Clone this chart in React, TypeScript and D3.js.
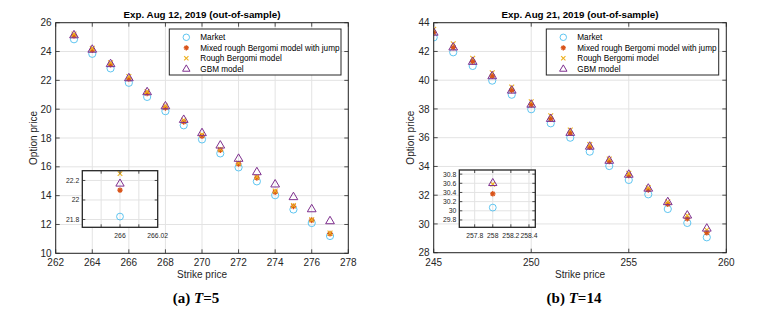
import * as d3 from "d3";

// Exp. Aug 12, 2019 (T=5)
const strikesA = [263, 264, 265, 266, 267, 268, 269, 270, 271, 272, 273, 274, 275, 276, 277];
const marketA = [24.85, 23.84, 22.83, 21.83, 20.85, 19.86, 18.88, 17.9, 16.93, 15.96, 14.99, 14.03, 13.04, 12.1, 11.2];
const mixedA = [25.1, 24.1, 23.1, 22.1, 21.1, 20.1, 19.12, 18.14, 17.16, 16.2, 15.24, 14.25, 13.26, 12.3, 11.36];
const roughA = [25.22, 24.22, 23.22, 22.27, 21.22, 20.22, 19.24, 18.24, 17.22, 16.27, 15.3, 14.32, 13.32, 12.33, 11.4];
const gbmA = [25.15, 24.15, 23.15, 22.17, 21.2, 20.22, 19.28, 18.36, 17.5, 16.58, 15.65, 14.8, 13.92, 13.08, 12.25];

// Exp. Aug 21, 2019 (T=14)
const strikesB = [245, 246, 247, 248, 249, 250, 251, 252, 253, 254, 255, 256, 257, 258, 259];
const marketB = [42.98, 41.94, 40.99, 39.97, 38.99, 37.98, 37.0, 36.0, 35.03, 34.03, 33.06, 32.06, 31.04, 30.07, 29.07];
const mixedB = [43.32, 42.28, 41.3, 40.29, 39.3, 38.3, 37.32, 36.33, 35.35, 34.35, 33.38, 32.38, 31.38, 30.37, 29.39];
const roughB = [43.54, 42.53, 41.53, 40.52, 39.52, 38.5, 37.53, 36.53, 35.52, 34.52, 33.52, 32.52, 31.55, 30.58, 29.58];
const gbmB = [43.33, 42.3, 41.3, 40.3, 39.3, 38.32, 37.33, 36.36, 35.4, 34.42, 33.45, 32.48, 31.54, 30.61, 29.7];

const legendLabels = ["Market", "Mixed rough Bergomi model with jump", "Rough Bergomi model", "GBM model"];

const xTicksA = [262, 264, 266, 268, 270, 272, 274, 276, 278];
const yTicksA = [10, 12, 14, 16, 18, 20, 22, 24, 26];
const xTicksB = [245, 250, 255, 260];
const yTicksB = [28, 30, 32, 34, 36, 38, 40, 42, 44];

const insetXGridA = [265.99, 266, 266.01];
const insetXLabelsA = [266, 266.02];
const insetYTicksA = [21.8, 22, 22.2];
const insetXTicksB = [257.8, 258, 258.2, 258.4];
const insetYTicksB = [29.8, 30, 30.2, 30.4, 30.6, 30.8];

const C_MARKET = "#4DBEEE";
const C_MIXED = "#D95319";
const C_ROUGH = "#EDB120";
const C_GBM = "#7E2F8E";
const AX = "#262626";
const GRID = "#e3e3e3";
const SANS = "'Liberation Sans', Arial, Helvetica, sans-serif";
const SERIF = "'Liberation Serif', 'Times New Roman', serif";

type Rect = { x0: number; x1: number; y0: number; y1: number };

function Marker({ kind, x, y, s = 1 }: { kind: number; x: number; y: number; s?: number }) {
  if (kind === 0) {
    return <circle cx={x} cy={y} r={3.6 * s} fill="none" stroke={C_MARKET} strokeWidth={0.9} />;
  }
  if (kind === 1) {
    const r = 2.9 * s;
    return (
      <g stroke={C_MIXED} strokeWidth={1.3}>
        <line x1={x - r} y1={y} x2={x + r} y2={y} />
        <line x1={x} y1={y - r} x2={x} y2={y + r} />
        <line x1={x - r * 0.7} y1={y - r * 0.7} x2={x + r * 0.7} y2={y + r * 0.7} />
        <line x1={x - r * 0.7} y1={y + r * 0.7} x2={x + r * 0.7} y2={y - r * 0.7} />
        <circle cx={x} cy={y} r={1.8 * s} fill={C_MIXED} stroke="none" />
      </g>
    );
  }
  if (kind === 2) {
    const r = 2.4 * s;
    return (
      <g stroke={C_ROUGH} strokeWidth={1.1}>
        <line x1={x - r} y1={y - r} x2={x + r} y2={y + r} />
        <line x1={x - r} y1={y + r} x2={x + r} y2={y - r} />
      </g>
    );
  }
  const h = 4.6 * s;
  return (
    <path
      d={`M${x},${y - h}L${x + h * 0.95},${y + h * 0.62}L${x - h * 0.95},${y + h * 0.62}Z`}
      fill="none"
      stroke={C_GBM}
      strokeWidth={1}
    />
  );
}

function Series({ strikes, series, x, y, s }: any) {
  return (
    <g>
      {series.map((vals: number[], k: number) =>
        vals.map((v, i) => <Marker key={`${k}-${i}`} kind={k} x={x(strikes[i])} y={y(v)} s={s} />)
      )}
    </g>
  );
}

function Panel(props: {
  id: string;
  rect: Rect;
  xDomain: [number, number];
  yDomain: [number, number];
  xTicks: number[];
  yTicks: number[];
  strikes: number[];
  series: number[][];
  title: string;
  legend: Rect;
  inset: Rect;
  insetX: [number, number];
  insetY: [number, number];
  insetXGrid: number[];
  insetXLabels: number[];
  insetYTicks: number[];
  ylabelX: number;
  caption: [string, string];
}) {
  const { rect, inset, legend } = props;
  const x = d3.scaleLinear().domain(props.xDomain).range([rect.x0, rect.x1]);
  const y = d3.scaleLinear().domain(props.yDomain).range([rect.y1, rect.y0]);
  const ix = d3.scaleLinear().domain(props.insetX).range([inset.x0, inset.x1]);
  const iy = d3.scaleLinear().domain(props.insetY).range([inset.y1, inset.y0]);
  const cx = (rect.x0 + rect.x1) / 2;
  const cy = (rect.y0 + rect.y1) / 2;
  const tl = 4;
  const fmt = (v: number) => String(+v.toFixed(2));
  return (
    <g>
      <defs>
        <clipPath id={`clip-${props.id}`}>
          <rect x={rect.x0} y={rect.y0} width={rect.x1 - rect.x0} height={rect.y1 - rect.y0} />
        </clipPath>
        <clipPath id={`iclip-${props.id}`}>
          <rect x={inset.x0} y={inset.y0} width={inset.x1 - inset.x0} height={inset.y1 - inset.y0} />
        </clipPath>
      </defs>
      <rect x={rect.x0} y={rect.y0} width={rect.x1 - rect.x0} height={rect.y1 - rect.y0} fill="#fff" />
      {props.xTicks.map((t) => (
        <line key={`gx${t}`} x1={x(t)} x2={x(t)} y1={rect.y0} y2={rect.y1} stroke={GRID} strokeWidth={1} />
      ))}
      {props.yTicks.map((t) => (
        <line key={`gy${t}`} x1={rect.x0} x2={rect.x1} y1={y(t)} y2={y(t)} stroke={GRID} strokeWidth={1} />
      ))}
      <g clipPath={`url(#clip-${props.id})`}>
        <Series strikes={props.strikes} series={props.series} x={x} y={y} s={1} />
      </g>
      {/* ticks inward on all sides */}
      <g stroke={AX} strokeWidth={0.8}>
        {props.xTicks.map((t) => (
          <g key={`tx${t}`}>
            <line x1={x(t)} x2={x(t)} y1={rect.y1} y2={rect.y1 - tl} />
            <line x1={x(t)} x2={x(t)} y1={rect.y0} y2={rect.y0 + tl} />
          </g>
        ))}
        {props.yTicks.map((t) => (
          <g key={`ty${t}`}>
            <line x1={rect.x0} x2={rect.x0 + tl} y1={y(t)} y2={y(t)} />
            <line x1={rect.x1} x2={rect.x1 - tl} y1={y(t)} y2={y(t)} />
          </g>
        ))}
      </g>
      <rect x={rect.x0} y={rect.y0} width={rect.x1 - rect.x0} height={rect.y1 - rect.y0} fill="none" stroke={AX} strokeWidth={1} />
      <g fontFamily={SANS} fontSize={10} fill={AX}>
        {props.xTicks.map((t) => (
          <text key={`lx${t}`} x={x(t)} y={rect.y1 + 13} textAnchor="middle">{t}</text>
        ))}
        {props.yTicks.map((t) => (
          <text key={`ly${t}`} x={rect.x0 - 4} y={y(t) + 3.6} textAnchor="end">{t}</text>
        ))}
        <text x={cx} y={rect.y1 + 25} textAnchor="middle">Strike price</text>
        <text transform={`translate(${props.ylabelX},${cy}) rotate(-90)`} textAnchor="middle">Option price</text>
      </g>
      <text x={cx} y={rect.y0 - 5} textAnchor="middle" fontFamily={SANS} fontWeight="bold" fontSize={9.8} fill="#000">
        {props.title}
      </text>

      {/* legend */}
      <rect x={legend.x0} y={legend.y0} width={legend.x1 - legend.x0} height={legend.y1 - legend.y0} fill="#fff" stroke={AX} strokeWidth={1} />
      {legendLabels.map((lab, k) => {
        const ry = legend.y0 + 8.3 + k * 10.5;
        return (
          <g key={lab}>
            <Marker kind={k} x={legend.x0 + 17} y={ry} s={k === 3 ? 0.85 : 0.9} />
            <text x={legend.x0 + 31} y={ry + 3} fontFamily={SANS} fontSize={8.2} fill="#000">{lab}</text>
          </g>
        );
      })}

      {/* inset */}
      <rect x={inset.x0} y={inset.y0} width={inset.x1 - inset.x0} height={inset.y1 - inset.y0} fill="#fff" />
      {props.insetXGrid.map((t) => (
        <line key={`igx${t}`} x1={ix(t)} x2={ix(t)} y1={inset.y0} y2={inset.y1} stroke={GRID} strokeWidth={1} />
      ))}
      {props.insetYTicks.map((t) => (
        <line key={`igy${t}`} x1={inset.x0} x2={inset.x1} y1={iy(t)} y2={iy(t)} stroke={GRID} strokeWidth={1} />
      ))}
      <g clipPath={`url(#iclip-${props.id})`}>
        <Series strikes={props.strikes} series={props.series} x={ix} y={iy} s={0.95} />
      </g>
      <g stroke={AX} strokeWidth={0.8}>
        {props.insetXGrid.map((t) => (
          <g key={`itx${t}`}>
            <line x1={ix(t)} x2={ix(t)} y1={inset.y1} y2={inset.y1 - 3} />
            <line x1={ix(t)} x2={ix(t)} y1={inset.y0} y2={inset.y0 + 3} />
          </g>
        ))}
        {props.insetYTicks.map((t) => (
          <g key={`ity${t}`}>
            <line x1={inset.x0} x2={inset.x0 + 3} y1={iy(t)} y2={iy(t)} />
            <line x1={inset.x1} x2={inset.x1 - 3} y1={iy(t)} y2={iy(t)} />
          </g>
        ))}
      </g>
      <rect x={inset.x0} y={inset.y0} width={inset.x1 - inset.x0} height={inset.y1 - inset.y0} fill="none" stroke={AX} strokeWidth={1.3} />
      <g fontFamily={SANS} fontSize={6.8} fill={AX}>
        {props.insetXLabels.map((t) => (
          <text key={`ilx${t}`} x={ix(t)} y={inset.y1 + 10.3} textAnchor="middle">{fmt(t)}</text>
        ))}
        {props.insetYTicks.map((t) => (
          <text key={`ily${t}`} x={inset.x0 - 3} y={iy(t) + 2.5} textAnchor="end">{fmt(t)}</text>
        ))}
      </g>

      <text x={cx - 6} y={302.5} textAnchor="middle" fontFamily={SERIF} fontSize={15} fontWeight="bold" fill="#000">
        <tspan>{props.caption[0]}</tspan>
        <tspan> </tspan>
        <tspan fontStyle="italic">T</tspan>
        <tspan>{props.caption[1]}</tspan>
      </text>
    </g>
  );
}

export default function App() {
  return (
    <svg width={777} height={309} style={{ position: "absolute", left: 0, top: 0, background: "#fff" }}>
      <Panel
        id="a"
        rect={{ x0: 55.7, x1: 348.3, y0: 22.7, y1: 253.3 }}
        xDomain={[262, 278]}
        yDomain={[10, 26]}
        xTicks={xTicksA}
        yTicks={yTicksA}
        strikes={strikesA}
        series={[marketA, mixedA, roughA, gbmA]}
        title="Exp. Aug 12, 2019 (out-of-sample)"
        legend={{ x0: 169.3, x1: 341, y0: 29, y1: 75 }}
        inset={{ x0: 82.3, x1: 157.7, y0: 170.7, y1: 227.3 }}
        insetX={[265.98, 266.02]}
        insetY={[21.72, 22.3]}
        insetXGrid={insetXGridA}
        insetXLabels={insetXLabelsA}
        insetYTicks={insetYTicksA}
        ylabelX={36.5}
        caption={["(a)", "=5"]}
      />
      <Panel
        id="b"
        rect={{ x0: 433.7, x1: 726.3, y0: 22.7, y1: 252.7 }}
        xDomain={[245, 260]}
        yDomain={[28, 44]}
        xTicks={xTicksB}
        yTicks={yTicksB}
        strikes={strikesB}
        series={[marketB, mixedB, roughB, gbmB]}
        title="Exp. Aug 21, 2019 (out-of-sample)"
        legend={{ x0: 546.3, x1: 718.7, y0: 29, y1: 75 }}
        inset={{ x0: 459.3, x1: 535.3, y0: 170, y1: 227.3 }}
        insetX={[257.63, 258.47]}
        insetY={[29.64, 30.89]}
        insetXGrid={insetXTicksB}
        insetXLabels={insetXTicksB}
        insetYTicks={insetYTicksB}
        ylabelX={413.5}
        caption={["(b)", "=14"]}
      />
    </svg>
  );
}
